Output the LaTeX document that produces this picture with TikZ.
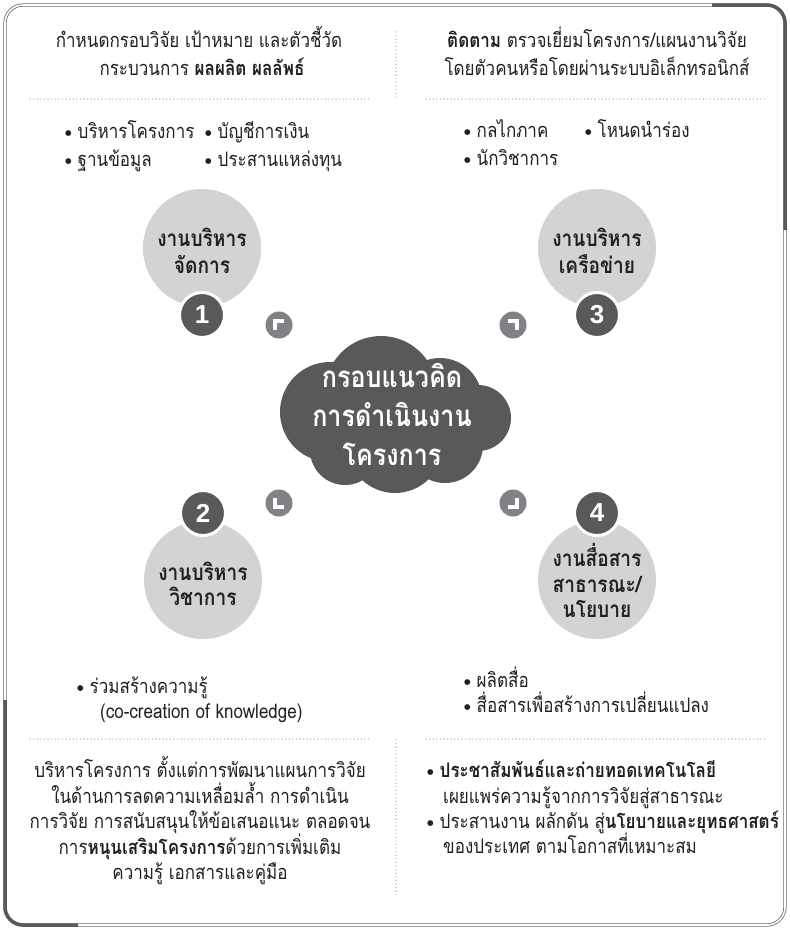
\documentclass[tikz,border=0pt]{standalone}
\usepackage{fontspec}
\setmainfont[Script=Thai]{Loma}
\newfontfamily\thaifont[Script=Thai, FakeStretch=0.85]{Loma}
\newfontfamily\numfont{Liberation Sans}
\newfontfamily\bulfont{DejaVu Sans}
\definecolor{lightc}{HTML}{D1D3D4}
\definecolor{darkc}{HTML}{58595B}
\definecolor{iconc}{HTML}{808285}
\definecolor{txtc}{HTML}{231F20}
\definecolor{framec}{HTML}{6D6E71}
\definecolor{dotc}{HTML}{808285}
\newcommand{\bul}{\raisebox{3pt}{\bulfont\fontsize{7.5}{7.5}\selectfont ●}\hspace{6pt}}
\begin{document}
\begin{tikzpicture}[x=1pt,y=-1pt,
  txt/.style={font=\thaifont\fontsize{20}{20}\selectfont, text=txtc, inner sep=0pt, anchor=base},
  btxt/.style={txt, anchor=base west},
  ctxt/.style={font=\thaifont\bfseries\fontsize{22.5}{22.5}\selectfont, text=txtc, inner sep=0pt, anchor=base},
  cloudtxt/.style={font=\thaifont\bfseries\fontsize{29.5}{29.5}\selectfont, text=white, inner sep=0pt, anchor=base},
  bigc/.style={circle, fill=lightc, minimum size=118pt, inner sep=0pt},
  badge/.style={circle, fill=darkc, draw=white, line width=3pt, minimum size=45pt, inner sep=0pt, text=white, font=\numfont\bfseries\fontsize{26}{26}\selectfont},
  icon/.style={circle, fill=iconc, minimum size=27pt, inner sep=0pt},
  brk/.style={white, line width=3.5pt},
  sep/.style={dotc, line width=1.1pt, dash pattern=on 0pt off 3.6pt, line cap=round},
]
\useasboundingbox (0,0) rectangle (790,930);
\fill[white] (0,0) rectangle (790,930);

% frame
\draw[framec, line width=0.8pt, double=white, double distance=1.6pt, rounded corners=18pt] (5,5) rectangle (785,925);
\draw[darkc, line width=3.5pt, rounded corners=18pt] (712,5) -- (785,5) -- (785,230);
\draw[darkc, line width=3.5pt, rounded corners=18pt] (5,700) -- (5,925) -- (78,925);

% separators
\draw[sep] (30,99) -- (370,99);
\draw[sep] (426,99) -- (768,99);
\draw[sep] (30,739) -- (370,739);
\draw[sep] (426,739) -- (768,739);
\draw[sep] (396,32) -- (396,98);
\draw[sep] (396,740) -- (396,895);

% top-left block
\node[txt] (tl1) at (199,47) {กำหนดกรอบวิจัย เป้าหมาย และตัวชี้วัด};
\node[txt] (tl2) at (202,75) {กระบวนการ \textbf{ผลผลิต ผลลัพธ์}};
\node[btxt] (a1) at (65,138) {\bul บริหารโครงการ};
\node[btxt] (a2) at (205,138) {\bul บัญชีการเงิน};
\node[btxt] (a3) at (65,166) {\bul ฐานข้อมูล};
\node[btxt] (a4) at (205,166) {\bul ประสานแหล่งทุน};

% top-right block
\node[txt] (tr1) at (597,47) {\textbf{ติดตาม} ตรวจเยี่ยมโครงการ/แผนงานวิจัย};
\node[txt] (tr2) at (597,75) {โดยตัวคนหรือโดยผ่านระบบอิเล็กทรอนิกส์};
\node[btxt] (b1) at (464,137) {\bul กลไกภาค};
\node[btxt] (b2) at (585,137) {\bul โหนดนำร่อง};
\node[btxt] (b3) at (464,165) {\bul นักวิชาการ};

% circles
\node[bigc] (c1) at (202,248) {};
\node[ctxt] (c1a) at (202,246) {งานบริหาร};
\node[ctxt] (c1b) at (202,273) {จัดการ};
\node[badge] (n1) at (202,315) {1};

\node[bigc] (c3) at (597,248) {};
\node[ctxt] (c3a) at (597,246) {งานบริหาร};
\node[ctxt] (c3b) at (597,273) {เครือข่าย};
\node[badge] (n3) at (597,315) {3};

\node[bigc] (c2) at (203,580) {};
\node[ctxt] (c2a) at (203,580) {งานบริหาร};
\node[ctxt] (c2b) at (203,605) {วิชาการ};
\node[badge] (n2) at (203,513) {2};

\node[bigc] (c4) at (597,580) {};
\node[ctxt] (c4a) at (597,566) {งานสื่อสาร};
\node[ctxt] (c4b) at (597,592) {สาธารณะ/};
\node[ctxt] (c4c) at (597,617) {นโยบาย};
\node[badge] (n4) at (597,513) {4};

% cloud
\fill[darkc] (381,392) circle (56) (330,412) circle (50) (478,418) circle (33)
  (440,400) circle (42) (395,445) circle (48) (345,450) circle (35) (445,445) circle (38);
\node[cloudtxt] (k1) at (392,387) {กรอบแนวคิด};
\node[cloudtxt] (k2) at (392,426) {การดำเนินงาน};
\node[cloudtxt] (k3) at (392,465) {โครงการ};

% corner icons
\node[icon] (i1) at (279,325) {};
\node[icon] (i2) at (513,325) {};
\node[icon] (i3) at (279,503) {};
\node[icon] (i4) at (513,503) {};
\draw[brk] ([shift={(-4,5)}]i1.center) -- ([shift={(-4,-4)}]i1.center) -- ([shift={(5,-4)}]i1.center);
\draw[brk] ([shift={(-5,-4)}]i2.center) -- ([shift={(4,-4)}]i2.center) -- ([shift={(4,5)}]i2.center);
\draw[brk] ([shift={(-4,-5)}]i3.center) -- ([shift={(-4,4)}]i3.center) -- ([shift={(5,4)}]i3.center);
\draw[brk] ([shift={(-5,4)}]i4.center) -- ([shift={(4,4)}]i4.center) -- ([shift={(4,-5)}]i4.center);

% bottom-left block
\node[btxt] (d1) at (77,693) {\bul ร่วมสร้างความรู้};
\node[btxt] (d2) at (100,718) {(co-creation of knowledge)};
\node[txt] (p1) at (200,777) {บริหารโครงการ ตั้งแต่การพัฒนาแผนการวิจัย};
\node[txt] (p2) at (200,803) {ในด้านการลดความเหลื่อมล้ำ การดำเนิน};
\node[txt] (p3) at (200,828) {การวิจัย การสนับสนุนให้ข้อเสนอแนะ ตลอดจน};
\node[txt] (p4) at (200,854) {การ\textbf{หนุนเสริมโครงการ}ด้วยการเพิ่มเติม};
\node[txt] (p5) at (200,879) {ความรู้ เอกสารและคู่มือ};

% bottom-right block
\node[btxt] (e1) at (464,687) {\bul ผลิตสื่อ};
\node[btxt] (e2) at (464,712) {\bul สื่อสารเพื่อสร้างการเปลี่ยนแปลง};
\node[btxt] (e3) at (427,777) {\bul \textbf{ประชาสัมพันธ์และถ่ายทอดเทคโนโลยี}};
\node[btxt] (e4) at (443,803) {เผยแพร่ความรู้จากการวิจัยสู่สาธารณะ};
\node[btxt] (e5) at (427,828) {\bul ประสานงาน ผลักดัน สู่\textbf{นโยบายและยุทธศาสตร์}};
\node[btxt] (e6) at (443,853) {ของประเทศ ตามโอกาสที่เหมาะสม};
\end{tikzpicture}
\end{document}
